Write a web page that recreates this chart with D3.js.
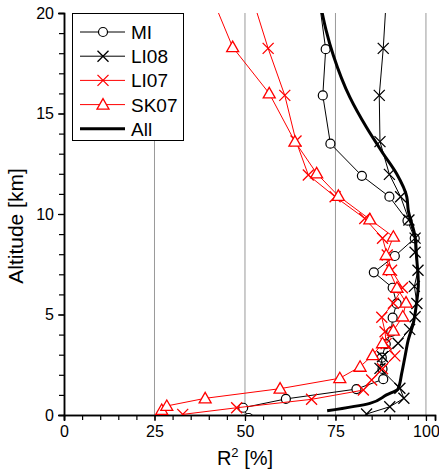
<!DOCTYPE html>
<html>
<head>
<meta charset="utf-8">
<script src="https://cdn.jsdelivr.net/npm/d3@7"></script>
<style>
  body { margin: 0; background: #fff; }
  text { font-family: Arial, "Liberation Sans", sans-serif; fill: #000; }
</style>
</head>
<body>
<div class="chart"></div>
<script>
// data: altitude [km] and R2 [%] per series
var miAlt   = [-0.15, 0.36, 0.8, 1.29, 1.78, 2.29, 2.85, 3.53, 4.14, 4.84, 5.54, 6.33, 7.1, 7.91, 8.79, 9.67, 10.86, 11.9, 13.5, 15.9, 18.2, 20.6];
var miVal   = [51, 49.5, 61.3, 80.8, 88.2, 88, 87.8, 88.9, 90.4, 90.8, 91.9, 90.8, 85.6, 91.4, 96.9, 94.9, 89.9, 82.3, 73.6, 71.5, 72.3, 70.5];

var li08Alt = [0.05, 0.41, 0.83, 1.33, 2.32, 2.9, 3.57, 4.26, 4.89, 5.55, 6.4, 7.2, 8.1, 8.8, 9.7, 10.86, 11.97, 13.6, 15.9, 18.24, 20.6];
var li08Val = [83.6, 90, 93.9, 92.8, 87.3, 88, 92.3, 95.5, 97, 97.5, 96.8, 97.8, 97, 97, 95.3, 93, 89.9, 87.3, 87.1, 88.2, 89];

var li07Alt = [0.03, 0.36, 0.78, 1.24, 1.74, 2.3, 2.94, 3.55, 4.14, 4.86, 5.56, 6.33, 7.2, 7.96, 8.79, 9.78, 10.86, 11.94, 13.63, 15.9, 18.24, 20.6];
var li07Val = [32.8, 47.7, 68.4, 82.7, 85, 88, 91.4, 89, 88.7, 87.8, 91, 93.5, 90.5, 89.3, 88, 83.1, 74.9, 67.5, 64.1, 61, 56.4, 52.3];

var sk07Alt = [0.25, 0.45, 0.83, 1.31, 1.83, 2.4, 2.98, 3.57, 4.2, 4.9, 5.59, 6.33, 7.21, 7.96, 8.87, 9.73, 10.9, 12.02, 13.6, 16.0, 18.3, 20.6];
var sk07Val = [27, 28.4, 39, 59.7, 76.2, 81.8, 85.3, 88, 91, 93.6, 94.5, 92, 89.8, 89, 91, 84.5, 75.8, 69.8, 63.8, 56.7, 46.6, 41.3];

var allAlt  = [0.21, 0.58, 1.0, 1.3, 2.07, 2.9, 3.73, 4.56, 5.56, 6.5, 7.9, 8.87, 10.2, 10.86, 12.0, 13.0, 14.3, 15.8, 17.9, 19.15, 20.3];
var allVal  = [72.7, 84.5, 89.1, 92.3, 93.3, 94.2, 95.1, 96.5, 97.4, 97.9, 97.4, 97, 95.1, 94.7, 91.9, 88.2, 83.6, 79, 74.4, 72.4, 71];

var xTicks = [0, 25, 50, 75, 100];
var yTicks = [0, 5, 10, 15, 20];

var svgWidth = 439;
var svgHeight = 472;

var margin = { top: 13, right: 4, bottom: 57, left: 64 };
var width = svgWidth - margin.left - margin.right;
var height = svgHeight - margin.top - margin.bottom;

var svg = d3.select(".chart")
  .append("svg")
  .attr("width", svgWidth)
  .attr("height", svgHeight);

var chartGroup = svg.append("g")
  .attr("transform", `translate(${margin.left}, ${margin.top})`);

var xScale = d3.scaleLinear().domain([0, 102.5]).range([0, width]);
var yScale = d3.scaleLinear().domain([0, 20]).range([height, 0]);

chartGroup.append("clipPath")
  .attr("id", "plotclip")
  .append("rect")
  .attr("x", 0).attr("y", 0)
  .attr("width", width).attr("height", height);

// vertical grid lines
chartGroup.selectAll(".grid")
  .data([25, 50, 75, 100])
  .enter()
  .append("line")
  .attr("x1", d => xScale(d)).attr("x2", d => xScale(d))
  .attr("y1", 0).attr("y2", height)
  .attr("stroke", "#999")
  .attr("stroke-width", 1);

// axes
var bottomAxis = d3.axisBottom(xScale).tickValues(xTicks).tickSize(6).tickPadding(5);
var bottomMinor = d3.axisBottom(xScale).tickValues(d3.range(0, 101, 5)).tickSize(5).tickFormat("");
var leftAxis = d3.axisLeft(yScale).tickValues(yTicks).tickSize(6).tickPadding(4);
var leftMinor = d3.axisLeft(yScale).tickValues(d3.range(0, 21, 1)).tickSize(5).tickFormat("");

function styleAxis(g) {
  g.select(".domain").attr("stroke", "#000").attr("stroke-width", 1.5);
  g.selectAll(".tick line").attr("stroke", "#000").attr("stroke-width", 1.2);
  g.selectAll(".tick text").style("font-size", "16px").attr("fill", "#000");
}

chartGroup.append("g")
  .attr("transform", `translate(0, ${height})`)
  .call(bottomMinor)
  .call(styleAxis);
chartGroup.append("g")
  .attr("transform", `translate(0, ${height})`)
  .call(bottomAxis)
  .call(styleAxis);
chartGroup.append("g")
  .call(leftMinor)
  .call(styleAxis);
chartGroup.append("g")
  .call(leftAxis)
  .call(styleAxis);

// axis titles
var xTitle = chartGroup.append("text")
  .attr("x", xScale(50))
  .attr("y", height + 50)
  .attr("text-anchor", "middle")
  .style("font-size", "20px");
xTitle.append("tspan").text("R");
xTitle.append("tspan").attr("dy", -8).style("font-size", "13px").text("2");
xTitle.append("tspan").attr("dy", 8).text(" [%]");

chartGroup.append("text")
  .attr("transform", `translate(${-41}, ${height / 2 + 12}) rotate(-90)`)
  .attr("text-anchor", "middle")
  .style("font-size", "21px")
  .text("Altitude [km]");

// series
var series = [
  { name: "MI",   alt: miAlt,   val: miVal,   color: "#000", marker: "circle" },
  { name: "LI08", alt: li08Alt, val: li08Val, color: "#000", marker: "cross" },
  { name: "LI07", alt: li07Alt, val: li07Val, color: "#ff0000", marker: "cross" },
  { name: "SK07", alt: sk07Alt, val: sk07Val, color: "#ff0000", marker: "triangle" }
];

var plot = chartGroup.append("g").attr("clip-path", "url(#plotclip)");

var line = d3.line()
  .x(d => xScale(d[1]))
  .y(d => yScale(d[0]));

function drawMarker(g, type, color) {
  if (type === "circle") {
    g.append("circle").attr("r", 4.5)
      .attr("fill", "#fff").attr("stroke", color).attr("stroke-width", 1.2);
  } else if (type === "cross") {
    g.append("path").attr("d", "M-5.5,-5.5L5.5,5.5M-5.5,5.5L5.5,-5.5")
      .attr("fill", "none").attr("stroke", color).attr("stroke-width", 1.3);
  } else if (type === "triangle") {
    g.append("path").attr("d", "M0,-6L6,4.5L-6,4.5Z")
      .attr("fill", "#fff").attr("stroke", color).attr("stroke-width", 1.3);
  }
}

series.forEach(function(s) {
  var pts = s.alt.map((a, i) => [a, s.val[i]]);
  plot.append("path")
    .datum(pts)
    .attr("d", line)
    .attr("fill", "none")
    .attr("stroke", s.color)
    .attr("stroke-width", 1);
  plot.selectAll(null)
    .data(pts)
    .enter()
    .append("g")
    .attr("transform", d => `translate(${xScale(d[1])}, ${yScale(d[0])})`)
    .each(function() { drawMarker(d3.select(this), s.marker, s.color); });
});

// overall curve
var allPts = allAlt.map((a, i) => [a, allVal[i]]);
plot.append("path")
  .datum(allPts)
  .attr("d", line.curve(d3.curveMonotoneY))
  .attr("fill", "none")
  .attr("stroke", "#000")
  .attr("stroke-width", 3);

// legend
var legend = svg.append("g").attr("transform", "translate(72, 13)");
legend.append("rect")
  .attr("x", 0.5).attr("y", 0.5)
  .attr("width", 111).attr("height", 127)
  .attr("fill", "#fff").attr("stroke", "#000").attr("stroke-width", 1);

var legendItems = series.map(s => ({ name: s.name, color: s.color, marker: s.marker, w: 1 }))
  .concat([{ name: "All", color: "#000", marker: null, w: 3 }]);

legendItems.forEach(function(d, i) {
  var yy = 19 + i * 24.2;
  var item = legend.append("g").attr("transform", `translate(0, ${yy})`);
  item.append("line")
    .attr("x1", 8).attr("x2", 53)
    .attr("y1", 0).attr("y2", 0)
    .attr("stroke", d.color).attr("stroke-width", d.w);
  if (d.marker) {
    var m = item.append("g").attr("transform", "translate(31, 0)");
    drawMarker(m, d.marker, d.color);
  }
  item.append("text")
    .attr("x", 59).attr("y", 7)
    .style("font-size", "19px")
    .text(d.name);
});
</script>
</body>
</html>
